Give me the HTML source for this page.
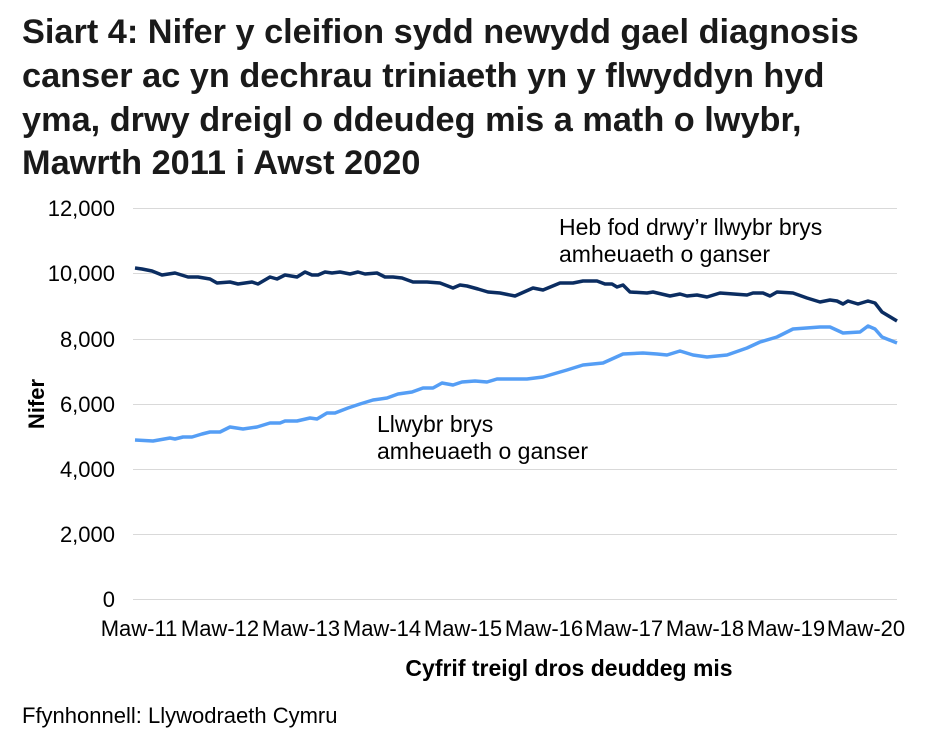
<!DOCTYPE html>
<html><head><meta charset="utf-8"><style>
body{margin:0;background:#fff;font-family:"Liberation Sans",Arial,sans-serif}
</style></head><body>
<svg width="931" height="742" xmlns="http://www.w3.org/2000/svg" font-family="Liberation Sans, Arial, sans-serif">
<g font-size="34.3" font-weight="bold" fill="#1a1a1a">
<text x="22" y="43">Siart 4: Nifer y cleifion sydd newydd gael diagnosis</text>
<text x="22" y="87">canser ac yn dechrau triniaeth yn y flwyddyn hyd</text>
<text x="22" y="131">yma, drwy dreigl o ddeudeg mis a math o lwybr,</text>
<text x="22" y="174">Mawrth 2011 i Awst 2020</text>
</g>
<g stroke="#d9d9d9" stroke-width="1">
<line x1="133" x2="897" y1="208.5" y2="208.5"/>
<line x1="133" x2="897" y1="273.5" y2="273.5"/>
<line x1="133" x2="897" y1="339.5" y2="339.5"/>
<line x1="133" x2="897" y1="404.5" y2="404.5"/>
<line x1="133" x2="897" y1="469.5" y2="469.5"/>
<line x1="133" x2="897" y1="534.5" y2="534.5"/>
<line x1="133" x2="897" y1="599.5" y2="599.5"/>
</g>
<g font-size="22" fill="#000" text-anchor="end">
<text x="115" y="216">12,000</text>
<text x="115" y="281">10,000</text>
<text x="115" y="347">8,000</text>
<text x="115" y="412">6,000</text>
<text x="115" y="477">4,000</text>
<text x="115" y="542">2,000</text>
<text x="115" y="607">0</text>
</g>
<g font-size="22" fill="#000" text-anchor="middle">
<text x="139" y="636">Maw-11</text>
<text x="220" y="636">Maw-12</text>
<text x="301" y="636">Maw-13</text>
<text x="382" y="636">Maw-14</text>
<text x="463" y="636">Maw-15</text>
<text x="544" y="636">Maw-16</text>
<text x="624" y="636">Maw-17</text>
<text x="705" y="636">Maw-18</text>
<text x="786" y="636">Maw-19</text>
<text x="866" y="636">Maw-20</text>
</g>
<text x="569" y="676" font-size="23" font-weight="bold" text-anchor="middle">Cyfrif treigl dros deuddeg mis</text>
<text transform="translate(44,404) rotate(-90)" font-size="22" font-weight="bold" text-anchor="middle">Nifer</text>
<text x="22" y="723" font-size="22">Ffynhonnell: Llywodraeth Cymru</text>
<g font-size="23" fill="#000">
<text x="559" y="235">Heb fod drwy’r llwybr brys</text>
<text x="559" y="262">amheuaeth o ganser</text>
<text x="377" y="432">Llwybr brys</text>
<text x="377" y="459">amheuaeth o ganser</text>
</g>
<polyline fill="none" stroke="#0b2d61" stroke-width="3.5" stroke-linejoin="round" points="135,268 142,269 152,271 162,275 175,273 188,277 198,277 210,279 217,283 230,282 238,284 252,282 258,284 270,277 277,279 285,275 297,277 305,272 312,275 318,275 325,272 332,273 340,272 350,274 358,272 365,274 377,273 385,277 393,277 402,278 413,282 427,282 440,283 453,288 460,285 467,286 478,289 488,292 500,293 515,296 533,288 543,290 560,283 573,283 583,281 597,281 605,284 612,284 617,287 623,285 630,292 647,293 653,292 670,296 680,294 687,296 697,295 707,297 720,293 747,295 753,293 763,293 770,296 777,292 793,293 807,298 820,302 830,300 837,301 843,304 848,301 858,304 868,301 875,303 882,312 897,321"/>
<polyline fill="none" stroke="#559ef5" stroke-width="3.5" stroke-linejoin="round" points="135,440 153,441 170,438 175,439 183,437 192,437 202,434 210,432 220,432 230,427 243,429 257,427 270,423 280,423 285,421 297,421 310,418 317,419 327,413 335,413 348,408 360,404 373,400 387,398 398,394 412,392 423,388 433,388 442,383 453,385 462,382 475,381 487,382 497,379 527,379 543,377 567,370 583,365 603,363 623,354 643,353 657,354 667,355 680,351 693,355 707,357 727,355 747,348 760,342 777,337 793,329 820,327 830,327 843,333 860,332 868,326 875,329 882,337 897,343"/>
</svg>
</body></html>
